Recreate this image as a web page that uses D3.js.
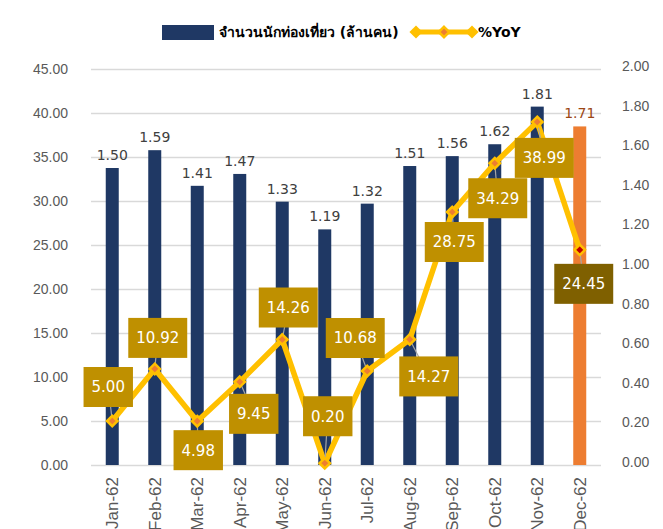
<!DOCTYPE html>
<html lang="th">
<head>
<meta charset="UTF-8" />
<title>tourists chart</title>
<script src="https://cdn.jsdelivr.net/npm/d3@7"></script>
<style>
  body { margin: 0; background: #fff; }
  svg { font-family: "DejaVu Sans", Tahoma, "Noto Sans", sans-serif; }
  .tick text { fill: #595959; font-size: 14px; }
  .tick line { stroke: #d9d9d9; stroke-width: 1.5; }
  .xaxis .tick text { font-family: "Liberation Sans", Arial, sans-serif; font-size: 17px; }
</style>
</head>
<body>
<svg id="chart" width="663" height="529"></svg>
<script>
// data
const months = ["Jan-62","Feb-62","Mar-62","Apr-62","May-62","Jun-62","Jul-62","Aug-62","Sep-62","Oct-62","Nov-62","Dec-62"];
const tourists = [1.50, 1.59, 1.41, 1.47, 1.33, 1.19, 1.32, 1.51, 1.56, 1.62, 1.81, 1.71];
const yoy = [5.00, 10.92, 4.98, 9.45, 14.26, 0.20, 10.68, 14.27, 28.75, 34.29, 38.99, 24.45];
const leftTicks = [0, 5, 10, 15, 20, 25, 30, 35, 40, 45];
const rightTicks = [0, 0.2, 0.4, 0.6, 0.8, 1.0, 1.2, 1.4, 1.6, 1.8, 2.0];

// where each %YoY box sits relative to its marker (px)
const labelShift = [[-4,-34],[3,-31],[1,29],[14,32],[6,-32],[3,-47],[-12,-33],[19,37],[2,30],[3,35],[7,36],[4,34]];

const svg = d3.select("#chart");
const plotL = 91, plotR = 601, plotT = 69, plotB = 465;

let x = d3.scaleBand().domain(months).range([plotL, plotR]);
let yL = d3.scaleLinear().domain([0, 45]).range([plotB, plotT]);
let yR = d3.scaleLinear().domain([0, 2]).range([plotB, plotT]);
const fmt = d3.format(".2f");

// grid + left axis
let gL = svg.append("g").attr("transform", `translate(${plotL},0)`)
  .call(d3.axisLeft(yL).tickValues(leftTicks).tickFormat(fmt)
    .tickSize(-(plotR - plotL)).tickPadding(23));
gL.select(".domain").remove();

// right axis
let gR = svg.append("g").attr("transform", `translate(${plotR},0)`)
  .call(d3.axisRight(yR).tickValues(rightTicks).tickFormat(fmt)
    .tickSize(0).tickPadding(21));
gR.select(".domain").remove();
gR.selectAll("text").attr("dy", "0.1em");

// x axis
let gX = svg.append("g").attr("class", "xaxis").attr("transform", `translate(0,${plotB})`)
  .call(d3.axisBottom(x).tickSize(0));
gX.select(".domain").remove();
gX.selectAll("text")
  .attr("transform", "rotate(-90)")
  .attr("x", -12).attr("y", 0).attr("dy", "0.35em")
  .attr("text-anchor", "end");

// bars (right axis)
const bw = 13;
svg.append("g").selectAll("rect").data(tourists).join("rect")
  .attr("x", (d, i) => x(months[i]) + x.bandwidth() / 2 - bw / 2)
  .attr("y", d => yR(d))
  .attr("width", bw)
  .attr("height", d => plotB - yR(d))
  .attr("fill", (d, i) => i === 11 ? "#ed7d31" : "#1f3864");

svg.append("g").selectAll("text").data(tourists).join("text")
  .attr("x", (d, i) => x(months[i]) + x.bandwidth() / 2)
  .attr("y", d => yR(d) - 8)
  .attr("text-anchor", "middle")
  .attr("font-size", 14)
  .attr("fill", (d, i) => i === 11 ? "#9c4714" : "#404040")
  .text(d => fmt(d));

// %YoY line (left axis)
const px = i => x(months[i]) + x.bandwidth() / 2;
svg.append("path").datum(yoy)
  .attr("fill", "none")
  .attr("stroke", "#ffc000")
  .attr("stroke-width", 5.5)
  .attr("stroke-linejoin", "round")
  .attr("d", d3.line().x((d, i) => px(i)).y(d => yL(d)));

// leader lines
svg.append("g").selectAll("line").data(yoy).join("line")
  .attr("x1", (d, i) => px(i)).attr("y1", d => yL(d))
  .attr("x2", (d, i) => px(i) + labelShift[i][0])
  .attr("y2", (d, i) => yL(d) + labelShift[i][1])
  .attr("stroke", "#a6a6a6").attr("stroke-width", 1.2);

// markers
const diamond = d3.symbol().type(d3.symbolDiamond2).size(70);
svg.append("g").selectAll("path").data(yoy).join("path")
  .attr("transform", (d, i) => `translate(${px(i)},${yL(d)})`)
  .attr("d", diamond)
  .attr("fill", (d, i) => i === 11 ? "#c00000" : "#ed7d31")
  .attr("stroke", "#ffc000").attr("stroke-width", 2.5);

// %YoY value boxes
let boxes = svg.append("g").selectAll("g").data(yoy).join("g")
  .attr("transform", (d, i) => `translate(${px(i) + labelShift[i][0]},${yL(d) + labelShift[i][1]})`);
boxes.append("rect")
  .attr("fill", (d, i) => i === 11 ? "#7f6000" : "#bf9000");
boxes.append("text")
  .attr("text-anchor", "middle").attr("dy", "0.36em")
  .attr("font-size", 15).attr("fill", "#fff")
  .text(d => fmt(d));
boxes.each(function () {
  const w = d3.select(this).select("text").node().getComputedTextLength() + 16;
  d3.select(this).select("rect").attr("x", -w / 2).attr("y", -20).attr("width", w).attr("height", 40);
});

// legend
let lg = svg.append("g").attr("font-weight", "bold").attr("font-size", 14).attr("fill", "#000");
lg.append("rect").attr("x", 162).attr("y", 25).attr("width", 52).attr("height", 15).attr("fill", "#1f3864");
lg.append("text").attr("x", 219).attr("y", 37).text("จำนวนนักท่องเที่ยว (ล้านคน)");
lg.append("line").attr("x1", 416).attr("x2", 472).attr("y1", 32).attr("y2", 32)
  .attr("stroke", "#ffc000").attr("stroke-width", 5);
[416, 472].forEach(cx => lg.append("path").attr("transform", `translate(${cx},32)`)
  .attr("d", d3.symbol().type(d3.symbolDiamond2).size(110)).attr("fill", "#ffc000"));
lg.append("path").attr("transform", "translate(444,32)").attr("d", diamond)
  .attr("fill", "#ed7d31").attr("stroke", "#ffc000").attr("stroke-width", 2.5);
lg.append("text").attr("x", 478).attr("y", 37).text("%YoY");
</script>
</body>
</html>
